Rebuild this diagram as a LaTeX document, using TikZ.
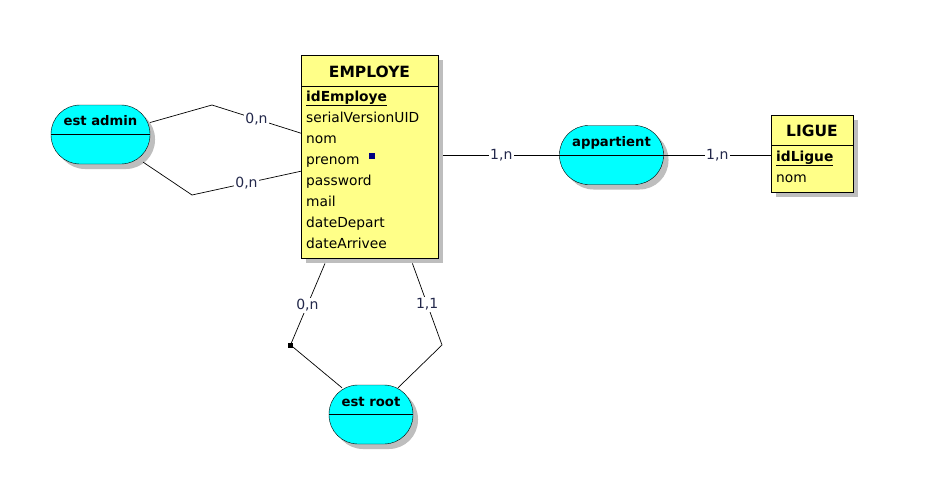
\documentclass[tikz,border=0pt]{standalone}
\usepackage{fontspec}
\setmainfont{DejaVu Sans}
\usetikzlibrary{shadows}
\definecolor{entfill}{RGB}{255,255,136}
\definecolor{relfill}{RGB}{0,255,255}
\definecolor{shadowgray}{RGB}{190,190,190}
\definecolor{lblcol}{RGB}{35,40,75}
\definecolor{markblue}{RGB}{0,0,128}
\tikzset{
  shade5/.style={drop shadow={shadow xshift=5pt,shadow yshift=-5pt,fill=shadowgray,opacity=1}},
  entity/.style={draw=black,fill=entfill,rectangle,inner sep=0pt,shade5},
  relation/.style={draw=black,fill=relfill,rectangle,rounded corners=29pt,inner sep=0pt,minimum height=59pt,shade5},
  ttl/.style={font=\fontsize{15.5}{18}\selectfont\bfseries,inner sep=0pt,anchor=base},
  rttl/.style={font=\fontsize{13.2}{16}\selectfont\bfseries,inner sep=0pt,anchor=base},
  attr/.style={font=\fontsize{13.8}{16}\selectfont,inner sep=0pt,anchor=base west},
  lbl/.style={font=\fontsize{14}{16}\selectfont,text=lblcol,fill=white,inner sep=1.5pt},
  conn/.style={draw=black,line width=0.7pt},
}
\begin{document}
\begin{tikzpicture}[x=1pt,y=-1pt]
\useasboundingbox (0,0) rectangle (932,490);
% EMPLOYE
\node[entity,minimum width=137pt,minimum height=203pt,anchor=north west] (emp) at (301,55) {};
\draw ([yshift=-31pt]emp.north west) -- ([yshift=-31pt]emp.north east);
\node[ttl] (empT) at (369.5,77) {EMPLOYE};
\node[attr] (e1) at (306,101) {\textbf{\underline{idEmploye}}};
\node[attr] (e2) at (306,122) {serialVersionUID};
\node[attr] (e3) at (306,143) {nom};
\node[attr] (e4) at (306,164) {prenom};
\node[attr] (e5) at (306,185) {password};
\node[attr] (e6) at (306,206) {mail};
\node[attr] (e7) at (306,227) {dateDepart};
\node[attr] (e8) at (306,248) {dateArrivee};
\node[fill=markblue,minimum size=6pt,inner sep=0pt] (bm) at (371.5,156) {};
% LIGUE
\node[entity,minimum width=82pt,minimum height=77pt,anchor=north west] (lig) at (771,115) {};
\draw ([yshift=-30pt]lig.north west) -- ([yshift=-30pt]lig.north east);
\node[ttl] (ligT) at (812,136) {LIGUE};
\node[attr] (l1) at (776,161) {\textbf{\underline{idLigue}}};
\node[attr] (l2) at (776,182) {nom};
% relations
\node[relation,minimum width=99pt] (ea) at (100.5,134.5) {};
\draw (ea.west) -- (ea.east);
\node[rttl] (eaT) at (100.5,125) {est admin};
\node[relation,minimum width=104pt] (ap) at (611.5,155) {};
\draw (ap.west) -- (ap.east);
\node[rttl] (apT) at (611.5,146) {appartient};
\node[relation,minimum width=84pt] (er) at (371,414.5) {};
\draw (er.west) -- (er.east);
\node[rttl] (erT) at (371,406) {est root};
% connectors
\coordinate (b1) at (212,105);
\coordinate (b2) at (192,195);
\draw[conn] ([yshift=12pt]ea.east) -- (b1) -- ([yshift=23.5pt]emp.west) node[lbl,pos=0.5] {0,n};
\draw[conn] ([xshift=-7pt,yshift=2pt]ea.south east) -- (b2) -- ([yshift=-14.5pt]emp.west) node[lbl,pos=0.5] {0,n};
\draw[conn] ([xshift=5pt]emp.east |- ap.west) -- node[lbl] {1,n} (ap.west);
\draw[conn] (ap.east) -- node[lbl] {1,n} (ap.east -| lig.west);
\node[fill=black,minimum size=5pt,inner sep=0pt] (sq) at (290.5,345) {};
\coordinate (b4) at (442,345);
\draw[conn] ([xshift=24pt,yshift=-5pt]emp.south west) -- node[lbl,pos=0.51] {0,n} (sq.center) -- ([xshift=-29pt,yshift=-3pt]er.north);
\draw[conn] ([xshift=-26pt,yshift=-5pt]emp.south east) -- node[lbl,pos=0.5] {1,1} (b4) -- ([xshift=27pt,yshift=-3pt]er.north);
\end{tikzpicture}
\end{document}
